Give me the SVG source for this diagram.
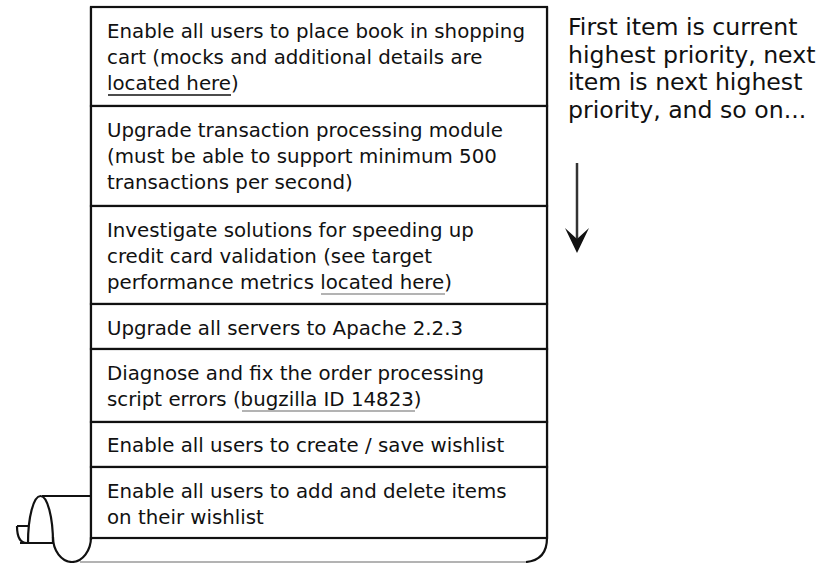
<svg xmlns="http://www.w3.org/2000/svg" width="831" height="563" viewBox="0 0 831 563">
<defs>
<style>
.row{fill:#fff;stroke:#111;stroke-width:2.2}
.t{font-family:"DejaVu Sans","Liberation Sans",sans-serif;font-size:19.8px;fill:#111}
.note{font-family:"DejaVu Sans","Liberation Sans",sans-serif;font-size:23.6px;fill:#111}
.ul{stroke:#111;stroke-width:1.3}
.ulg{stroke:#9a9a9a;stroke-width:1.3}
.curl{fill:none;stroke:#111;stroke-width:2.2}
</style>
</defs>
<rect width="831" height="563" fill="#fff"/>
<g id="scroll">
<path class="curl" d="M91,7 V540 M547,7 V538 Q547,560 526,562"/>
<line x1="80" y1="562" x2="526" y2="562" stroke="#9a9a9a" stroke-width="1.5"/>
<path class="curl" d="M42,496 H91"/>
<path class="curl" fill="#fff" d="M53,537 A19,25 0 0 0 91,537"/>
<path class="curl" d="M28,543 A12.5,47 0 0 1 53,543"/>
<path class="curl" d="M20,543 H53"/>
<path class="curl" d="M17,526 H28 M17,526 C17,536 20,543 27,543"/>
</g>
<g id="item1">
<rect class="row" x="91" y="7" width="456" height="99"/>
<text class="t" x="107" y="38">Enable all users to place book in shopping</text>
<text class="t" x="107" y="64">cart (mocks and additional details are</text>
<text class="t" x="107" y="90">located here)</text>
<line class="ul" x1="108" y1="95" x2="231" y2="95"/>
</g>
<g id="item2">
<rect class="row" x="91" y="106" width="456" height="100"/>
<text class="t" x="107" y="137">Upgrade transaction processing module</text>
<text class="t" x="107" y="163">(must be able to support minimum 500</text>
<text class="t" x="107" y="189">transactions per second)</text>
</g>
<g id="item3">
<rect class="row" x="91" y="206" width="456" height="98"/>
<text class="t" x="107" y="237">Investigate solutions for speeding up</text>
<text class="t" x="107" y="263">credit card validation (see target</text>
<text class="t" x="107" y="289">performance metrics located here)</text>
<line class="ulg" x1="321" y1="294" x2="445" y2="294"/>
</g>
<g id="item4">
<rect class="row" x="91" y="304" width="456" height="45"/>
<text class="t" x="107" y="335">Upgrade all servers to Apache 2.2.3</text>
</g>
<g id="item5">
<rect class="row" x="91" y="349" width="456" height="73"/>
<text class="t" x="107" y="380">Diagnose and fix the order processing</text>
<text class="t" x="107" y="406">script errors (bugzilla ID 14823)</text>
<line class="ulg" x1="242" y1="411" x2="415" y2="411"/>
</g>
<g id="item6">
<rect class="row" x="91" y="422" width="456" height="45"/>
<text class="t" x="107" y="452">Enable all users to create / save wishlist</text>
</g>
<g id="item7">
<rect class="row" x="91" y="467" width="456" height="71"/>
<text class="t" x="107" y="498">Enable all users to add and delete items</text>
<text class="t" x="107" y="524">on their wishlist</text>
</g>
<g id="note">
<text class="note" x="568" y="35">First item is current</text>
<text class="note" x="568" y="62.5">highest priority, next</text>
<text class="note" x="568" y="90">item is next highest</text>
<text class="note" x="568" y="117.5">priority, and so on...</text>
</g>
<g id="connectors">
<line x1="577" y1="163" x2="577" y2="242" stroke="#333" stroke-width="2.5"/>
<polygon points="565,228 577,239 589,228 577,253" fill="#111"/>
</g>
</svg>
